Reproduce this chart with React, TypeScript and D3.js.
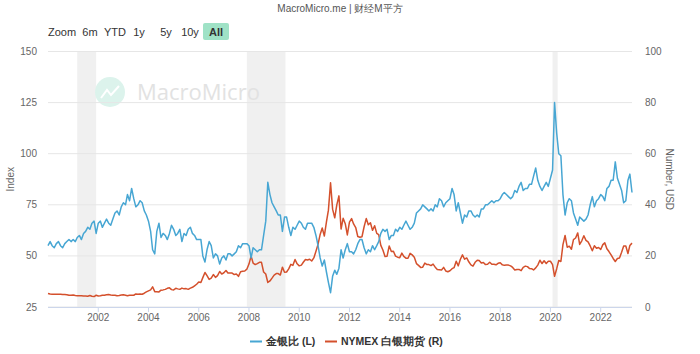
import React from "react";
import * as d3 from "d3";

// Monthly data, starting January 2000
const START = new Date(2000, 0, 1);
const END = new Date(2023, 3, 1);

const goldSilverRatio = [
  // 2000
  55, 57, 55, 54, 56, 57, 55, 54, 56, 57, 58, 57,
  // 2001
  58, 57, 59, 60, 58, 61, 62, 64, 63, 66, 67, 61,
  // 2002
  66, 67, 64, 66, 68, 66, 65, 68, 71, 72, 70, 74,
  // 2003
  76, 75, 80, 77, 83, 78, 74, 75, 77, 76, 72, 70,
  // 2004
  67, 62, 53, 51, 62, 66, 59, 61, 60, 58, 61, 65,
  // 2005
  63, 60, 61, 63, 57, 61, 60, 63, 64, 61, 60, 58,
  // 2006
  58, 58, 50, 47, 53, 57, 55, 49, 51, 50, 46, 49,
  // 2007
  50, 48, 51, 51, 50, 51, 52, 55, 54, 56, 56, 56,
  // 2008
  55, 49, 54, 53, 52, 53, 53, 60, 67, 86, 80, 76,
  // 2009
  74, 72, 70, 70, 62, 69, 69, 64, 60, 64, 63, 65,
  // 2010
  67, 66, 64, 63, 66, 66, 66, 64, 60, 55, 49, 45,
  // 2011
  48, 42, 37, 32, 40, 43, 41, 44, 53, 49, 53, 56,
  // 2012
  52, 52, 51, 53, 56, 58, 58, 54, 51, 53, 52, 55,
  // 2013
  53, 55, 57, 61, 63, 62, 63, 58, 60, 60, 63, 62,
  // 2014
  64, 63, 65, 67, 65, 63, 64, 66, 71, 72, 73, 75,
  // 2015
  74, 73, 72, 73, 72, 75, 74, 78, 77, 74, 76, 77,
  // 2016
  78, 83, 80, 72, 76, 71, 66, 70, 69, 72, 72, 70,
  // 2017
  69, 70, 69, 73, 73, 75, 75, 76, 77, 76, 77, 77,
  // 2018
  78, 80, 81, 80, 79, 78, 79, 82, 81, 84, 86, 82,
  // 2019
  83, 83, 85, 85, 89, 93, 87, 84, 82, 84, 86, 84,
  // 2020
  88, 92, 125, 110, 100, 99, 80, 70, 76, 78, 77, 71,
  // 2021
  68, 65, 69, 68, 67, 68, 70, 75, 79, 74, 77, 78,
  // 2022
  80, 79, 77, 83, 84, 87, 87, 96, 88, 85, 82, 76,
  // 2023
  77, 87, 90, 81,
];

const silverPrice = [
  // 2000
  5.3, 5.1, 5.0, 5.0, 5.0, 5.0, 5.0, 4.9, 4.9, 4.8, 4.6, 4.6,
  // 2001
  4.7, 4.5, 4.4, 4.4, 4.4, 4.3, 4.3, 4.2, 4.5, 4.2, 4.1, 4.6,
  // 2002
  4.3, 4.4, 4.6, 4.6, 4.8, 4.9, 4.7, 4.6, 4.6, 4.4, 4.5, 4.7,
  // 2003
  4.8, 4.6, 4.4, 4.6, 4.6, 4.6, 5.1, 5.0, 5.1, 5.0, 5.4, 5.9,
  // 2004
  6.3, 6.7, 7.9, 6.0, 6.0, 5.9, 6.6, 6.7, 6.9, 7.3, 7.5, 6.8,
  // 2005
  6.7, 7.3, 7.1, 6.9, 7.4, 7.1, 7.2, 6.9, 7.4, 7.7, 8.3, 8.9,
  // 2006
  9.8, 9.6, 11.5, 13.5, 12.3, 10.8, 11.3, 12.7, 11.6, 12.3, 13.9, 12.9,
  // 2007
  13.4, 14.3, 13.3, 13.3, 13.3, 12.7, 12.9, 12.0, 13.8, 14.0, 14.1, 14.8,
  // 2008
  16.8, 19.9, 17.2, 16.6, 17.0, 17.5, 17.5, 13.7, 12.9, 9.6, 10.2, 11.3,
  // 2009
  12.5, 13.1, 13.1, 12.5, 15.6, 13.6, 13.7, 14.9, 16.7, 16.3, 18.6, 16.9,
  // 2010
  16.1, 16.4, 17.5, 18.6, 18.4, 18.7, 18.0, 19.2, 21.8, 24.5, 28.4, 30.9,
  // 2011
  27.8, 33.4, 37.9, 48.6, 38.3, 34.9, 40.0, 43.5, 30.5, 34.7, 32.6, 28.2,
  // 2012
  33.2, 34.6, 32.5, 31.1, 27.6, 27.3, 27.5, 31.4, 34.6, 32.2, 33.0, 30.0,
  // 2013
  31.8, 28.8, 28.3, 24.1, 22.3, 19.8, 19.9, 23.9, 21.7, 21.8, 19.9, 19.5,
  // 2014
  19.3, 21.1, 19.8, 19.1, 19.1, 21.0, 20.4, 19.5, 17.0, 16.3, 15.5, 15.6,
  // 2015
  17.2, 16.6, 16.6, 16.2, 16.8, 15.6, 14.7, 14.6, 14.5, 15.5, 14.1, 13.8,
  // 2016
  14.2, 15.0, 15.4, 17.9, 16.1, 18.7, 20.4, 18.7, 19.2, 17.7, 16.5, 16.0,
  // 2017
  17.5, 18.3, 18.2, 17.2, 17.4, 16.6, 16.7, 17.5, 16.7, 16.7, 16.5, 17.1,
  // 2018
  17.3, 16.5, 16.3, 16.4, 16.4, 16.1, 15.5, 14.5, 14.7, 14.7, 14.2, 15.5,
  // 2019
  16.0, 15.8, 15.1, 15.0, 14.5, 15.3, 16.4, 18.3, 17.0, 18.1, 17.0, 17.9,
  // 2020
  17.9, 16.6, 12.0, 15.0, 18.2, 17.8, 24.4, 28.0, 23.4, 23.8, 22.6, 26.4,
  // 2021
  27.0, 29.0, 24.5, 25.9, 27.9, 26.1, 25.5, 23.9, 22.0, 24.0, 23.0, 23.3,
  // 2022
  22.5, 24.4, 25.1, 22.8, 21.7, 20.4, 19.0, 17.8, 19.0, 19.2, 21.4, 23.9,
  // 2023
  23.9, 20.9, 24.1, 25.0,
];

const leftTicks = [25, 50, 75, 100, 125, 150];
const rightTicks = [0, 20, 40, 60, 80, 100];
const xTickYears = [2002, 2004, 2006, 2008, 2010, 2012, 2014, 2016, 2018, 2020, 2022];
const recessionStarts = ["2001-03-01", "2007-12-01", "2020-02-01"];
const recessionEnds = ["2001-12-01", "2009-06-15", "2020-04-15"];
const rangeButtons = ["6m", "YTD", "1y", "5y", "10y", "All"];
const seriesNames = ["金银比 (L)", "NYMEX 白银期货 (R)"];

const BLUE = "#47a6d3";
const RED = "#d4502c";
const FONT = "'Liberation Sans', Arial, Helvetica, sans-serif";

export default function App() {
  const W = 700;
  const H = 354;
  const left = 48;
  const right = 632;
  const top = 51.5;
  const bottom = 307;

  const x = d3.scaleTime().domain([START, END]).range([left, right]);
  const yL = d3.scaleLinear().domain([25, 150]).range([bottom, top]);
  const yR = d3.scaleLinear().domain([0, 100]).range([bottom, top]);
  const dateAt = (i: number) => new Date(2000, i, 1);

  const lineL = d3
    .line<number>()
    .x((_, i) => x(dateAt(i)))
    .y((d) => yL(d));
  const lineR = d3
    .line<number>()
    .x((_, i) => x(dateAt(i)))
    .y((d) => yR(d));

  const btnX = [90, 115, 139, 166, 190, 216];

  return (
    <div style={{ position: "fixed", left: 0, top: 0, width: W, height: H, background: "#fff" }}>
      <svg width={W} height={H} style={{ display: "block", fontFamily: FONT }}>
        <rect width={W} height={H} fill="#fff" />
        {/* title */}
        <text x={340} y={12} textAnchor="middle" fontSize={10} fill="#555">
          MacroMicro.me | 财经M平方
        </text>

        {/* range selector */}
        <text x={48} y={36} fontSize={11} fill="#333">Zoom</text>
        {rangeButtons.map((b, i) => {
          const active = b === "All";
          return (
            <g key={b}>
              {active && <rect x={btnX[i] - 13} y={23} width={26} height={17} rx={2} fill="#9fe2c6" />}
              <text
                x={btnX[i]}
                y={36}
                textAnchor="middle"
                fontSize={11}
                fontWeight={active ? "bold" : "normal"}
                fill="#333"
              >
                {b}
              </text>
            </g>
          );
        })}

        {/* recession bands */}
        {recessionStarts.map((s, i) => (
          <rect
            key={s}
            x={x(new Date(s))}
            y={top}
            width={x(new Date(recessionEnds[i])) - x(new Date(s))}
            height={bottom - top}
            fill="#f0f0f0"
          />
        ))}

        {/* watermark */}
        <g opacity={1}>
          <circle cx={110} cy={92} r={15} fill="#dcf3ec" />
          <path d="M101,98 L107,90 L111,95 L119,86" stroke="#fff" strokeWidth={2} fill="none" />
          <text x={137} y={100} fontSize={22} fill="#e2e2e2" fontFamily="'Open Sans', Arial, sans-serif">
            MacroMicro
          </text>
        </g>

        {/* gridlines */}
        {leftTicks.map((t) => (
          <line key={t} x1={left} x2={right} y1={yL(t)} y2={yL(t)} stroke="#e6e6e6" strokeWidth={1} />
        ))}
        <line x1={left} x2={right} y1={bottom + 0.5} y2={bottom + 0.5} stroke="#ccd6eb" strokeWidth={1} />
        {xTickYears.map((yr) => (
          <line
            key={yr}
            x1={x(new Date(yr, 0, 1))}
            x2={x(new Date(yr, 0, 1))}
            y1={bottom}
            y2={bottom + 5}
            stroke="#ccd6eb"
          />
        ))}

        {/* left axis labels */}
        {leftTicks.map((t) => (
          <text key={t} x={37} y={yL(t) + 3.5} textAnchor="end" fontSize={10} fill="#666">
            {t}
          </text>
        ))}
        <text
          transform={`translate(14,${(top + bottom) / 2}) rotate(-90)`}
          textAnchor="middle"
          fontSize={10}
          fill="#666"
        >
          Index
        </text>

        {/* right axis labels */}
        {rightTicks.map((t) => (
          <text key={t} x={645} y={yR(t) + 3.5} textAnchor="start" fontSize={10} fill="#666">
            {t}
          </text>
        ))}
        <text
          transform={`translate(666,${(top + bottom) / 2}) rotate(90)`}
          textAnchor="middle"
          fontSize={10}
          fill="#666"
        >
          Number, USD
        </text>

        {/* x axis labels */}
        {xTickYears.map((yr) => (
          <text key={yr} x={x(new Date(yr, 0, 1))} y={321} textAnchor="middle" fontSize={10} fill="#666">
            {yr}
          </text>
        ))}

        {/* series */}
        <path d={lineR(silverPrice) || ""} fill="none" stroke={RED} strokeWidth={1.5} strokeLinejoin="round" />
        <path d={lineL(goldSilverRatio) || ""} fill="none" stroke={BLUE} strokeWidth={1.5} strokeLinejoin="round" />

        {/* legend */}
        <line x1={250} x2={262} y1={341.5} y2={341.5} stroke={BLUE} strokeWidth={2} />
        <text x={266} y={345} fontSize={10.5} fontWeight="bold" fill="#333">{seriesNames[0]}</text>
        <line x1={325} x2={337} y1={341.5} y2={341.5} stroke={RED} strokeWidth={2} />
        <text x={341} y={345} fontSize={10.5} fontWeight="bold" fill="#333">{seriesNames[1]}</text>
      </svg>
    </div>
  );
}
